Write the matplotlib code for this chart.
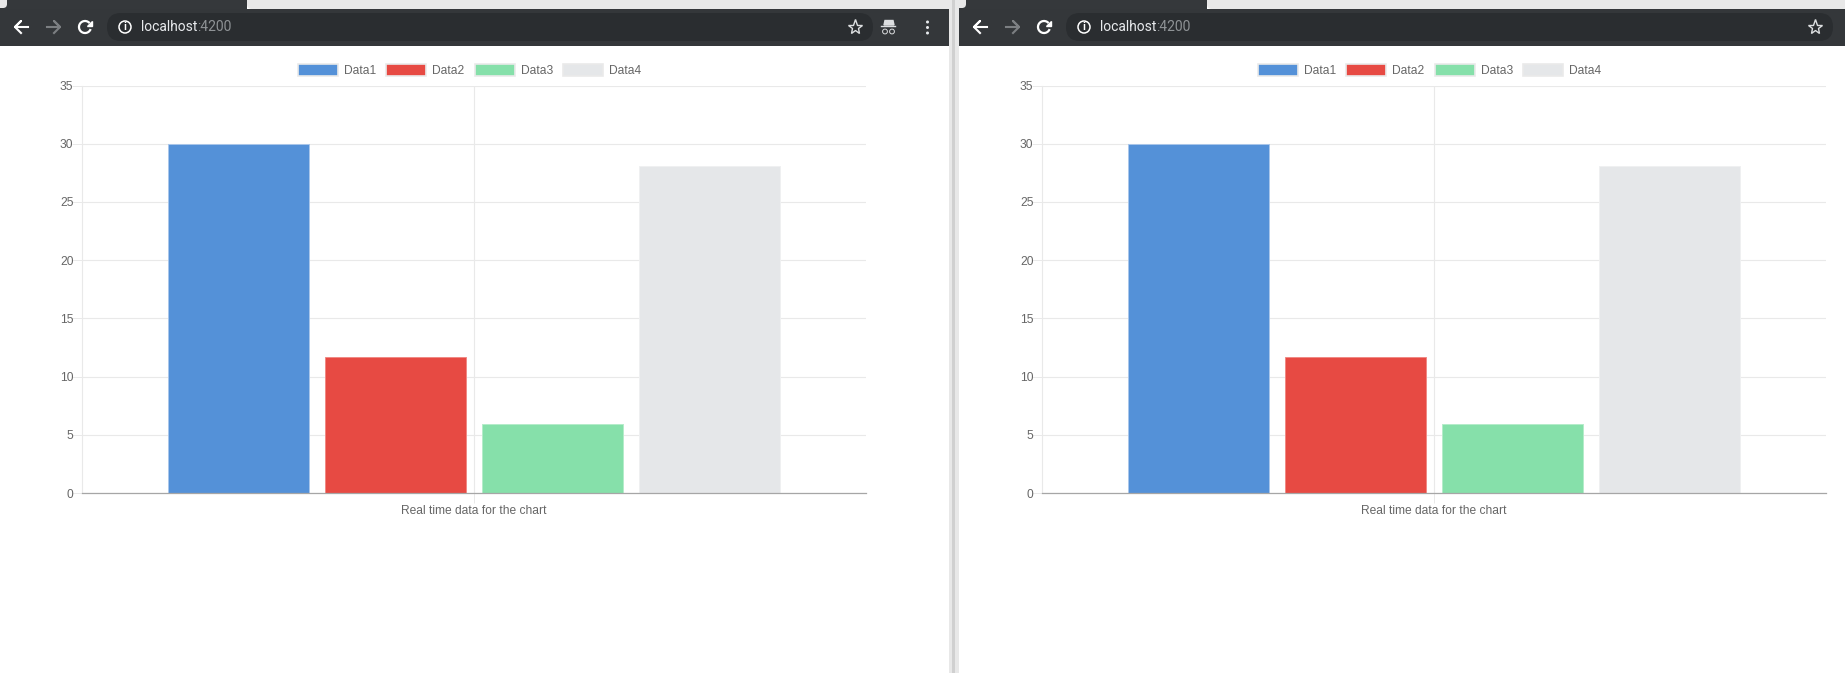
import matplotlib
matplotlib.use('Agg')
import matplotlib.pyplot as plt
from matplotlib.patches import Patch, Rectangle, FancyBboxPatch, Circle, Arc
import numpy as np

W, H = 1845, 673

labels = ['Data1', 'Data2', 'Data3', 'Data4']
values = [30, 11.65, 5.95, 28.1]
colors = ['#5491d8', '#e74a43', '#86e0aa', '#e5e7e9']
edges = ['#a9c6ea', '#f08a85', '#b5ecca', '#eff0f1']
category = ['Real time data for the chart']
y_ticks = [0, 5, 10, 15, 20, 25, 30, 35]

plt.rcParams['font.family'] = ['Liberation Sans', 'DejaVu Sans']
plt.rcParams['font.size'] = 8.64

fig = plt.figure(figsize=(W / 100, H / 100), dpi=100, facecolor='white')

# pixel overlay for the browser chrome
top = fig.add_axes([0, 0, 1, 1], zorder=5)
top.set_xlim(0, W)
top.set_ylim(H, 0)
top.axis('off')
top.patch.set_alpha(0)


def rect(x0, y0, x1, y1, color):
    top.add_patch(Rectangle((x0, y0), x1 - x0, y1 - y0, fc=color, ec='none'))


def rounded(x0, y0, x1, y1, color, r=5):
    patch = FancyBboxPatch((x0 + r, y0 + r), x1 - x0 - 2 * r, y1 - y0 - 2 * r,
                           boxstyle=f'round,pad={r}', fc=color, ec='none')
    top.add_patch(patch)
    patch.set_clip_box(Rectangle((x0, 0), x1 - x0, 9, transform=top.transData).get_window_extent())


def draw_chart(off):
    left, right, y_top, y_bot = 82 + off, 866 + off, 85.5, 493
    ax = fig.add_axes([left / W, 1 - y_bot / H, (right - left) / W, (y_bot - y_top) / H])
    ax.set_xlim(-0.5, 0.5)
    ax.set_ylim(0, 35)
    ax.set_axisbelow(True)
    for i in range(len(values)):
        ax.bar((i - 1.5) * 0.2, values[i], width=0.18, color=colors[i], edgecolor=edges[i], linewidth=0.7)

    ax.set_yticks(y_ticks)
    ax.set_xticks([0])
    ax.set_xticklabels(category)
    ax.grid(True, color='#e9e9e9', linewidth=0.8)
    ax.tick_params(axis='both', color='#e9e9e9', labelcolor='#666666', length=7.2, width=0.7, labelsize=8.64)
    ax.tick_params(axis='y', pad=-1)
    ax.tick_params(axis='x', pad=1.2)
    for s in ['top', 'right']:
        ax.spines[s].set_visible(False)
    ax.spines['left'].set_color('#e9e9e9')
    ax.spines['left'].set_linewidth(0.8)
    ax.spines['bottom'].set_color('#a6a6a6')
    ax.spines['bottom'].set_linewidth(0.9)

    handles = [Patch(facecolor=c, edgecolor='#eaeaea', linewidth=1.2, label=l)
               for c, l in zip(colors, labels)]
    ax.legend(handles=handles, loc='center', bbox_to_anchor=((469.5 + off) / W, 1 - 70.5 / H),
              bbox_transform=fig.transFigure, ncol=4, frameon=False, borderpad=0, borderaxespad=0,
              handlelength=3.33, handleheight=1.1, handletextpad=0.5, columnspacing=0.85,
              labelcolor='#666666', fontsize=8.64)


def draw_toolbar(x0, x1, tab_x, box_x1, incognito):
    rect(x0, 0, tab_x, 9, '#35383b')
    rounded(tab_x, -12, x1 + 12, 9, '#e8e8e8')
    rounded(x0 - 12, -12, x0 + 7, 8, '#e8e8e8', r=4)
    rect(x0, 9, x1, 46, '#34373a')
    top.add_patch(FancyBboxPatch((x0 + 107 + 14, 13 + 14), box_x1 - x0 - 107 - 28, 0,
                                 boxstyle='round,pad=14', fc='#2a2d30', ec='none'))
    # back, forward
    top.plot([x0 + 28, x0 + 15, x0 + 21, x0 + 15, x0 + 21], [27, 27, 21, 27, 33], color='white', lw=1.5)
    top.plot([x0 + 47, x0 + 60, x0 + 54, x0 + 60, x0 + 54], [27, 27, 21, 27, 33], color='#7c7f82', lw=1.5)
    # reload
    top.add_patch(Arc((x0 + 85, 27), 12, 12, theta1=20, theta2=320, color='white', lw=1.6))
    top.fill([x0 + 87, x0 + 92, x0 + 92], [26, 26, 21], color='white')
    # info
    top.add_patch(Circle((x0 + 125, 27), 6, fc='none', ec='white', lw=1.1))
    top.text(x0 + 125, 27.5, 'i', color='white', fontsize=7.5, fontweight='bold', ha='center', va='center')
    t = top.text(x0 + 141, 27, 'localhost', color='#e8eaed', fontsize=10, family='Roboto', va='center')
    fig.canvas.draw()
    bb = t.get_window_extent()
    top.text(bb.x1, 27, ':4200', color='#8f9396', fontsize=10, family='Roboto', va='center')
    # star
    top.plot([box_x1 - 18], [27], marker='*', ms=11, mfc='none', mec='#dcdee0', mew=1)
    if incognito:
        ix = x0 + 887
        top.fill([ix - 3, ix - 2, ix + 6, ix + 7], [25, 20.5, 20.5, 25], color='#dcdee0')
        top.plot([ix - 6, ix + 8], [26, 26], color='#dcdee0', lw=1)
        top.add_patch(Circle((ix - 2, 31.5), 2.4, fc='none', ec='#dcdee0', lw=0.7))
        top.add_patch(Circle((ix + 5, 31.5), 2.4, fc='none', ec='#dcdee0', lw=0.7))
        for dy in [22, 27.5, 33]:
            top.add_patch(Circle((x0 + 927.5, dy), 1.5, fc='#e8eaed', ec='none'))


draw_chart(0)
draw_chart(960)
draw_toolbar(0, 949, 247, 873, True)
draw_toolbar(959, W, 1207, 1833, False)

# divider between the two windows
rect(949, 0, 959, H, '#e8e8e8')
rect(952, 0, 955, H, '#d0d0d0')

fig.savefig('out.png', dpi=100)
